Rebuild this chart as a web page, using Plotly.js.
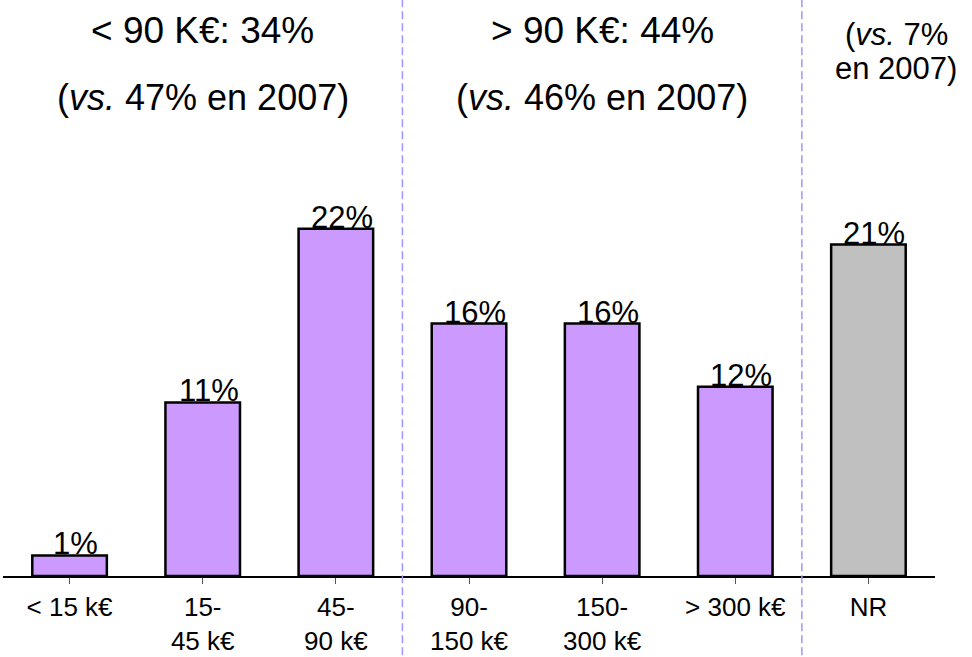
<!DOCTYPE html>
<html>
<head>
<meta charset="utf-8">
<script src="https://cdn.plot.ly/plotly-3.0.1.min.js"></script>
<style>html,body{margin:0;padding:0;background:#fff;}#chart{width:972px;height:657px;}</style>
</head>
<body>
<div id="chart"></div>
<script>
const categories = ["< 15 k€", "15-<br>45 k€", "45-<br>90 k€", "90-<br>150 k€", "150-<br>300 k€", "> 300 k€", "NR"];
const values = [1.3, 11, 22, 16, 16, 12, 21];
const valueLabels = ["1%", "11%", "22%", "16%", "16%", "12%", "21%"];
const barColors = ["#cc99ff", "#cc99ff", "#cc99ff", "#cc99ff", "#cc99ff", "#cc99ff", "#c0c0c0"];
const groupHeaders = [
  {line1: "< 90 K€: 34%", line2: "(<i>vs.</i> 47% en 2007)", at: 1},
  {line1: "> 90 K€: 44%", line2: "(<i>vs.</i> 46% en 2007)", at: 4}
];
const nrHeader = {line1: "(<i>vs.</i> 7%", line2: "en 2007)", at: 6};
const separators = [2.5, 5.5];

const FONT = "Liberation Sans, Arial, Helvetica, sans-serif";
const idx = categories.map((c, i) => i);

const trace = {
  type: "bar",
  x: idx,
  y: values,
  marker: {color: barColors, line: {color: "#000", width: 2.5}},
  hoverinfo: "none"
};

const shapes = separators.map(s => ({
  type: "line", xref: "x", yref: "paper", x0: s, x1: s, y0: -0.2, y1: 1.2,
  line: {color: "#9999ff", width: 1.5, dash: "8px,4px"}
}));

const H = 657, B = 81, T = 0;
const plotH = H - B - T;
function py(pix) { return (H - B - pix) / plotH; } // pixel y (from top) -> paper

const ann = [];
values.forEach((v, i) => {
  ann.push({
    x: i, y: v, xref: "x", yref: "y", text: valueLabels[i], showarrow: false,
    xanchor: "center", yanchor: "bottom", xshift: 6, yshift: -8,
    font: {family: FONT, size: 31, color: "#000"}
  });
});
groupHeaders.forEach(h => {
  ann.push({x: h.at, y: py(31), xref: "x", yref: "paper", yanchor: "middle", xanchor: "center",
    text: h.line1, showarrow: false, font: {family: FONT, size: 37, color: "#000"}});
  ann.push({x: h.at, y: py(97), xref: "x", yref: "paper", yanchor: "middle", xanchor: "center",
    text: h.line2, showarrow: false, font: {family: FONT, size: 36, color: "#000"}});
});
ann.push({x: nrHeader.at, y: py(34), xref: "x", yref: "paper", yanchor: "middle", xanchor: "center", xshift: 28,
  text: nrHeader.line1, showarrow: false, font: {family: FONT, size: 31, color: "#000"}});
ann.push({x: nrHeader.at, y: py(68), xref: "x", yref: "paper", yanchor: "middle", xanchor: "center", xshift: 28,
  text: nrHeader.line2, showarrow: false, font: {family: FONT, size: 31, color: "#000"}});

const layout = {
  width: 972, height: 657,
  margin: {l: 3, r: 37, t: T, b: B, pad: 0},
  paper_bgcolor: "#fff", plot_bgcolor: "#fff",
  showlegend: false,
  bargap: 0.44,
  font: {family: FONT, color: "#000"},
  xaxis: {
    tickmode: "array", tickvals: idx, ticktext: categories,
    range: [-0.5, 6.5], showline: true, linecolor: "#000", linewidth: 1.5,
    ticks: "outside", tickson: "boundaries", ticklen: 6, tickcolor: "#555", tickwidth: 1,
    ticklabelstandoff: 1,
    tickfont: {family: FONT, size: 26, color: "#000"},
    showgrid: false, zeroline: false, fixedrange: true
  },
  yaxis: {range: [0, 36.5], visible: false, showgrid: false, zeroline: false, fixedrange: true},
  shapes: shapes,
  annotations: ann
};

Plotly.newPlot("chart", [trace], layout, {displayModeBar: false, staticPlot: true});
</script>
</body>
</html>
